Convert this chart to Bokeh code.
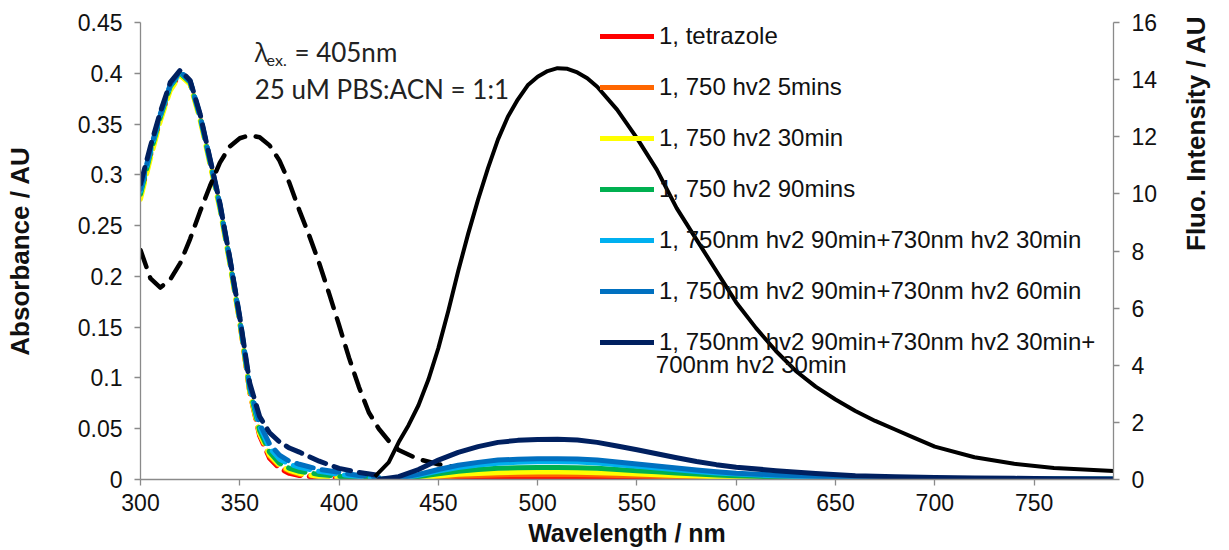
import math
from bokeh.plotting import figure
from bokeh.models import (Range1d, LinearAxis, FixedTicker, Legend, LegendItem,
                          Label, CustomJSTickFormatter)
from bokeh.embed import file_html
from bokeh.resources import INLINE

# ---------------- data ----------------
WL_TICKS = [300, 350, 400, 450, 500, 550, 600, 650, 700, 750]
ABS_TICKS = [0, 0.05, 0.1, 0.15, 0.2, 0.25, 0.3, 0.35, 0.4, 0.45]
FLUO_TICKS = [0, 2, 4, 6, 8, 10, 12, 14, 16]

SERIES_NAMES = [
    "1, tetrazole",
    "1, 750 hv2 5mins",
    "1, 750 hv2 30min",
    "1, 750 hv2 90mins",
    "1, 750nm hv2 90min+730nm hv2 30min",
    "1, 750nm hv2 90min+730nm hv2 60min",
    "1, 750nm hv2 90min+730nm hv2 30min+",
]
LAST_NAME_LINE2 = "700nm hv2 30min"
SERIES_COLORS = ["#FF0000", "#FF6600", "#FFFF00", "#00B050", "#00B0F0", "#0070C0", "#002060"]

# absorbance (left axis), dashed coloured curves
W_ABS = [300, 305, 310, 315, 320, 325, 330, 335, 340, 345, 350, 355, 360, 365, 370, 375, 380, 390, 400, 410, 420]
abs_red = [0.279, 0.319, 0.355, 0.385, 0.399, 0.390, 0.356, 0.312, 0.268, 0.214, 0.155, 0.086, 0.043, 0.021, 0.011, 0.006, 0.004, 0.002, 0.001, 0.001, 0.000]
abs_orange = [0.280, 0.320, 0.356, 0.386, 0.400, 0.390, 0.357, 0.313, 0.269, 0.215, 0.156, 0.087, 0.045, 0.023, 0.013, 0.008, 0.005, 0.003, 0.002, 0.001, 0.000]
abs_yellow = [0.276, 0.316, 0.353, 0.383, 0.398, 0.389, 0.354, 0.310, 0.266, 0.212, 0.154, 0.086, 0.045, 0.024, 0.014, 0.009, 0.006, 0.003, 0.002, 0.001, 0.000]
abs_green = [0.281, 0.321, 0.357, 0.387, 0.400, 0.391, 0.357, 0.313, 0.269, 0.215, 0.157, 0.089, 0.048, 0.027, 0.016, 0.011, 0.008, 0.005, 0.003, 0.002, 0.001]
abs_lightblue = [0.284, 0.323, 0.359, 0.388, 0.401, 0.392, 0.358, 0.314, 0.270, 0.216, 0.158, 0.091, 0.052, 0.031, 0.020, 0.015, 0.012, 0.008, 0.005, 0.003, 0.001]
abs_blue = [0.286, 0.325, 0.360, 0.389, 0.402, 0.392, 0.359, 0.315, 0.271, 0.217, 0.159, 0.092, 0.055, 0.035, 0.024, 0.018, 0.015, 0.010, 0.007, 0.004, 0.002]
abs_navy = [0.291, 0.328, 0.362, 0.391, 0.403, 0.393, 0.360, 0.316, 0.272, 0.218, 0.160, 0.095, 0.062, 0.046, 0.037, 0.031, 0.027, 0.018, 0.011, 0.007, 0.004]

# reference absorbance (black dashed)
W_ABS_REF = [300, 305, 310, 315, 320, 325, 330, 335, 340, 345, 350, 355, 360, 365, 370, 375, 380, 385, 390, 395,
             400, 405, 410, 415, 420, 425, 430, 440, 450, 460, 470]
abs_ref = [0.226, 0.198, 0.189, 0.197, 0.213, 0.237, 0.264, 0.289, 0.312, 0.328, 0.336, 0.339, 0.337, 0.329, 0.314,
           0.292, 0.265, 0.240, 0.213, 0.183, 0.152, 0.120, 0.091, 0.066, 0.050, 0.038, 0.029, 0.020, 0.015, 0.012, 0.010]

# fluorescence (right axis), solid coloured curves
W_FLUO = [420, 430, 440, 450, 460, 470, 480, 490, 500, 510, 520, 530, 540, 550, 560, 570, 580, 590, 600,
          620, 640, 660, 680, 700, 720, 740, 760, 790]
fl_red = [0, 0.01, 0.02, 0.04, 0.05, 0.06, 0.07, 0.08, 0.08, 0.08, 0.08, 0.07, 0.07, 0.06, 0.05, 0.04, 0.04, 0.03, 0.03,
          0.02, 0.01, 0.01, 0.01, 0, 0, 0, 0, 0]
fl_orange = [0, 0.01, 0.04, 0.08, 0.12, 0.14, 0.16, 0.17, 0.17, 0.17, 0.17, 0.16, 0.14, 0.13, 0.11, 0.09, 0.08, 0.06, 0.05,
             0.04, 0.03, 0.02, 0.01, 0.01, 0.01, 0, 0, 0]
fl_yellow = [0, 0.02, 0.06, 0.12, 0.18, 0.21, 0.24, 0.25, 0.26, 0.26, 0.25, 0.24, 0.22, 0.19, 0.17, 0.14, 0.12, 0.10, 0.08,
             0.06, 0.04, 0.03, 0.02, 0.01, 0.01, 0.01, 0.01, 0]
fl_green = [0, 0.03, 0.10, 0.20, 0.29, 0.35, 0.39, 0.41, 0.42, 0.42, 0.41, 0.39, 0.35, 0.31, 0.27, 0.23, 0.19, 0.16, 0.13,
            0.09, 0.06, 0.04, 0.03, 0.02, 0.02, 0.01, 0.01, 0.01]
fl_lightblue = [0, 0.04, 0.15, 0.30, 0.42, 0.51, 0.57, 0.60, 0.62, 0.62, 0.61, 0.58, 0.52, 0.46, 0.40, 0.34, 0.28, 0.23, 0.19,
                0.13, 0.09, 0.06, 0.04, 0.03, 0.02, 0.02, 0.01, 0.01]
fl_blue = [0, 0.05, 0.18, 0.35, 0.50, 0.60, 0.68, 0.71, 0.73, 0.73, 0.72, 0.68, 0.61, 0.54, 0.47, 0.40, 0.33, 0.27, 0.22,
           0.16, 0.11, 0.07, 0.05, 0.04, 0.03, 0.02, 0.02, 0.01]
fl_navy = [0, 0.10, 0.35, 0.68, 0.95, 1.15, 1.30, 1.37, 1.40, 1.41, 1.38, 1.30, 1.17, 1.04, 0.90, 0.76, 0.63, 0.52, 0.43,
           0.31, 0.21, 0.13, 0.10, 0.07, 0.05, 0.04, 0.03, 0.02]

# reference fluorescence (black solid)
W_FLUO_REF = [418, 425, 430, 435, 440, 445, 450, 455, 460, 465, 470, 475, 480, 485, 490, 495, 500, 505, 510, 515,
              520, 525, 530, 540, 550, 560, 570, 580, 590, 600, 610, 620, 630, 640, 650, 660, 670, 680, 690, 700,
              720, 740, 760, 790]
fl_ref = [0.1, 0.6, 1.3, 1.9, 2.6, 3.5, 4.6, 5.9, 7.3, 8.6, 9.8, 10.9, 11.9, 12.7, 13.3, 13.8, 14.1, 14.3, 14.4, 14.38,
          14.25, 14.05, 13.75, 12.95, 11.95, 10.85, 9.5, 8.4, 7.3, 6.2, 5.3, 4.5, 3.8, 3.25, 2.8, 2.4, 2.05, 1.75, 1.45, 1.15,
          0.78, 0.55, 0.4, 0.3]

ABS_SERIES = [abs_red, abs_orange, abs_yellow, abs_green, abs_lightblue, abs_blue, abs_navy]
FLUO_SERIES = [fl_red, fl_orange, fl_yellow, fl_green, fl_lightblue, fl_blue, fl_navy]

# ---------------- figure ----------------
TICK_FONT = "Liberation Sans"
TEXT_COLOR = "#111111"
AXIS_GRAY = "#8a8a8a"

p = figure(width=1229, height=550, output_backend="svg", toolbar_location=None,
           x_range=Range1d(300, 790), y_range=Range1d(0, 0.45),
           min_border_left=140, min_border_right=110, min_border_top=22, min_border_bottom=71)
p.outline_line_color = None
p.grid.visible = False
p.extra_y_ranges = {"fluo": Range1d(0, 16)}

fmt = CustomJSTickFormatter(code="return tick.toFixed(2).replace(/\\.?0+$/, '');")

def style_axis(ax):
    ax.axis_line_color = AXIS_GRAY
    ax.axis_line_width = 1.3
    ax.major_tick_line_color = AXIS_GRAY
    ax.major_tick_line_width = 1.3
    ax.major_tick_out = 6
    ax.major_tick_in = 0
    ax.minor_tick_line_color = None
    ax.major_label_text_font = TICK_FONT
    ax.major_label_text_font_size = "23px"
    ax.major_label_text_color = TEXT_COLOR
    ax.major_label_standoff = 12
    ax.axis_label_text_font = TICK_FONT
    ax.axis_label_text_font_size = "26px"
    ax.axis_label_text_font_style = "bold"
    ax.axis_label_text_color = TEXT_COLOR

xa = p.xaxis[0]
xa.ticker = FixedTicker(ticks=WL_TICKS)
style_axis(xa)
xa.major_label_standoff = 8
xa.axis_label = "Wavelength / nm"
xa.axis_label_text_font_size = "25px"
xa.axis_label_standoff = 5

ya = p.yaxis[0]
ya.ticker = FixedTicker(ticks=ABS_TICKS)
ya.formatter = fmt
style_axis(ya)
ya.axis_label = "Absorbance / AU"
ya.axis_label_standoff = 40

ra = LinearAxis(y_range_name="fluo", ticker=FixedTicker(ticks=FLUO_TICKS))
style_axis(ra)
ra.axis_label = "Fluo. Intensity / AU"
ra.axis_label_standoff = 36
ra.axis_label_orientation = math.pi / 2
p.add_layout(ra, "right")

# absorbance coloured dashed
for ys, c in zip(ABS_SERIES, SERIES_COLORS):
    p.line(W_ABS, ys, line_color=c, line_width=5, line_dash="17 9", line_cap="round", line_join="round")

# reference absorbance
p.line(W_ABS_REF, abs_ref, line_color="black", line_width=4.5, line_dash="18 11", line_cap="round", line_join="round")

# fluorescence coloured solid
fluo_renderers = []
for ys, c in zip(FLUO_SERIES, SERIES_COLORS):
    r = p.line(W_FLUO, ys, line_color=c, line_width=5, line_cap="round", line_join="round", y_range_name="fluo")
    fluo_renderers.append(r)

# reference fluorescence
p.line(W_FLUO_REF, fl_ref, line_color="black", line_width=4, line_join="round", y_range_name="fluo")

legend = Legend(items=[LegendItem(label=n, renderers=[r]) for n, r in zip(SERIES_NAMES, fluo_renderers)],
                location=(460, 123), orientation="vertical",
                label_text_font=TICK_FONT, label_text_font_size="24px", label_text_color=TEXT_COLOR,
                glyph_width=54, glyph_height=28, label_height=28, spacing=23,
                padding=0, margin=0, label_standoff=5,
                border_line_color=None, background_fill_alpha=0)
p.add_layout(legend)

p.add_layout(Label(x=559.5, y=0.1132, text=LAST_NAME_LINE2, text_font=TICK_FONT, text_font_size="24px",
                   text_color=TEXT_COLOR, text_baseline="middle", text_align="left"))

# annotations
p.add_layout(Label(x=357.5, y=0.42075, text="λ", text_font="Open Sans", text_font_size="26px",
                   text_color="#222222", text_baseline="alphabetic"))
p.add_layout(Label(x=363.5, y=0.41327, text="ex.", text_font="Lato", text_font_size="16px",
                   text_color="#222222", text_baseline="alphabetic"))
p.add_layout(Label(x=377.5, y=0.42075, text="= 405nm", text_font="Lato", text_font_size="26px",
                   text_color="#222222", text_baseline="alphabetic"))
p.add_layout(Label(x=357.5, y=0.3847, text="25 uM PBS:ACN = 1:1", text_font="Lato", text_font_size="26px",
                   text_color="#222222", text_baseline="alphabetic"))

open("out.html", "w").write(file_html(p, INLINE))
